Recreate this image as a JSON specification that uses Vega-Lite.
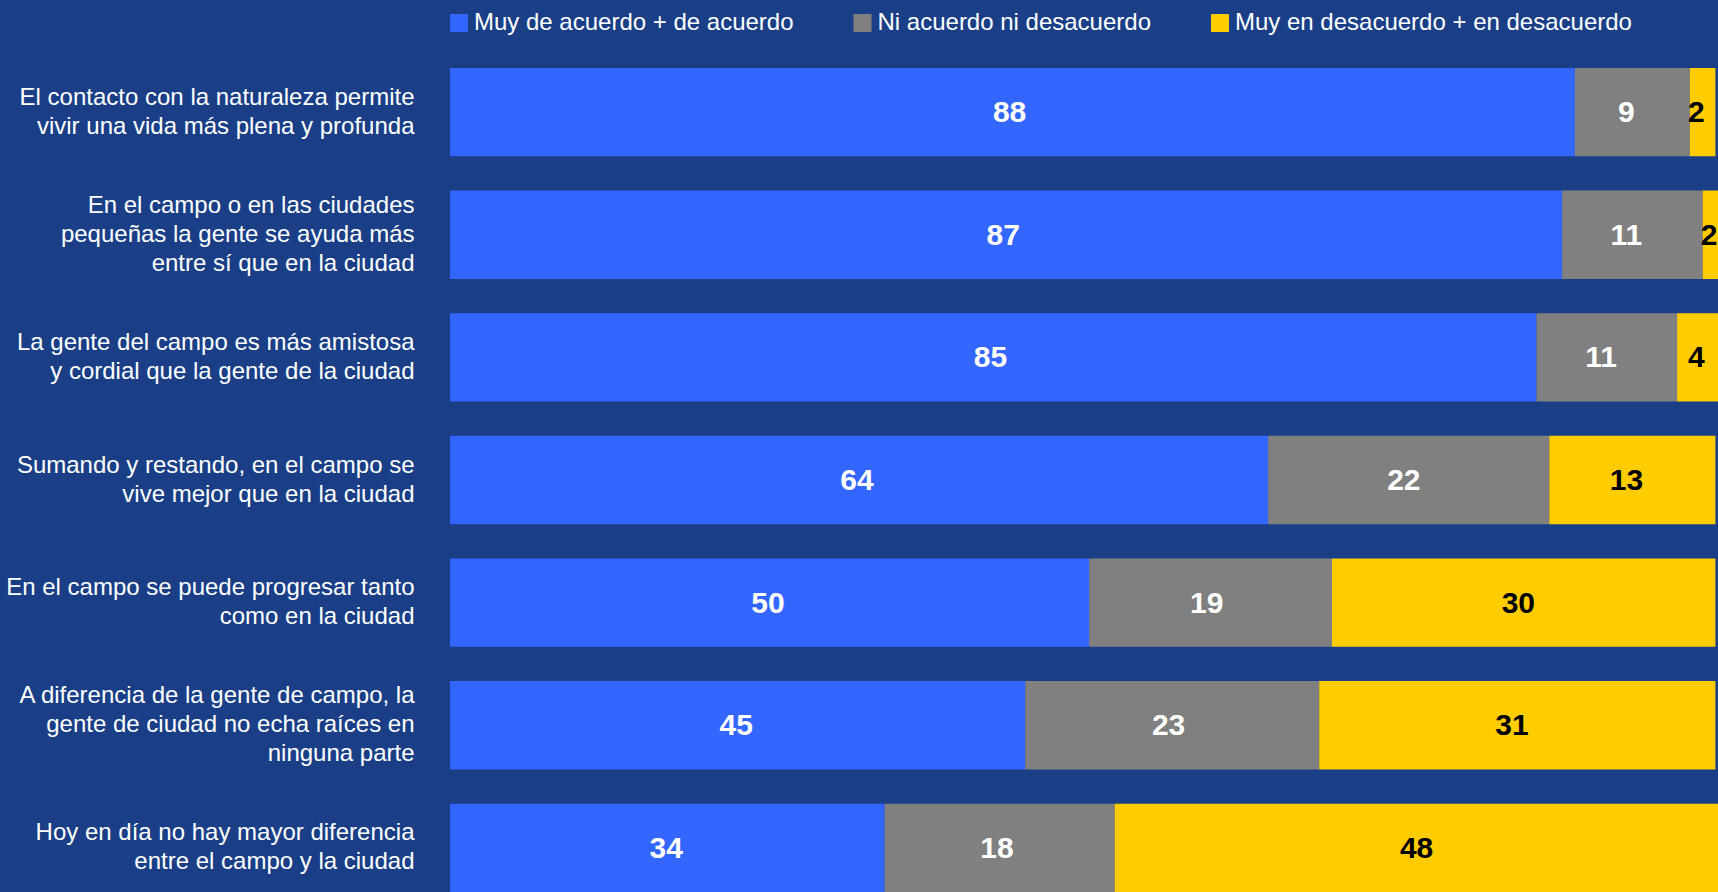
{
  "$schema": "https://vega.github.io/schema/vega-lite/v6.json",
  "width": 1268,
  "height": 824,
  "autosize": {"type": "none"},
  "padding": {"left": 450, "top": 68, "right": 0, "bottom": 0},
  "background": "#1a3f86",
  "config": {"view": {"stroke": null}, "font": "Liberation Sans"},
  "data": {
    "values": [
      {"pregunta": "El contacto con la naturaleza permite|vivir una vida más plena y profunda", "respuesta": "Muy de acuerdo + de acuerdo", "orden": 1, "valor": 88},
      {"pregunta": "El contacto con la naturaleza permite|vivir una vida más plena y profunda", "respuesta": "Ni acuerdo ni desacuerdo", "orden": 2, "valor": 9},
      {"pregunta": "El contacto con la naturaleza permite|vivir una vida más plena y profunda", "respuesta": "Muy en desacuerdo + en desacuerdo", "orden": 3, "valor": 2},
      {"pregunta": "En el campo o en las ciudades|pequeñas la gente se ayuda más|entre sí que en la ciudad", "respuesta": "Muy de acuerdo + de acuerdo", "orden": 1, "valor": 87},
      {"pregunta": "En el campo o en las ciudades|pequeñas la gente se ayuda más|entre sí que en la ciudad", "respuesta": "Ni acuerdo ni desacuerdo", "orden": 2, "valor": 11},
      {"pregunta": "En el campo o en las ciudades|pequeñas la gente se ayuda más|entre sí que en la ciudad", "respuesta": "Muy en desacuerdo + en desacuerdo", "orden": 3, "valor": 2},
      {"pregunta": "La gente del campo es más amistosa|y cordial que la gente de la ciudad", "respuesta": "Muy de acuerdo + de acuerdo", "orden": 1, "valor": 85},
      {"pregunta": "La gente del campo es más amistosa|y cordial que la gente de la ciudad", "respuesta": "Ni acuerdo ni desacuerdo", "orden": 2, "valor": 11},
      {"pregunta": "La gente del campo es más amistosa|y cordial que la gente de la ciudad", "respuesta": "Muy en desacuerdo + en desacuerdo", "orden": 3, "valor": 4},
      {"pregunta": "Sumando y restando, en el campo se|vive mejor que en la ciudad", "respuesta": "Muy de acuerdo + de acuerdo", "orden": 1, "valor": 64},
      {"pregunta": "Sumando y restando, en el campo se|vive mejor que en la ciudad", "respuesta": "Ni acuerdo ni desacuerdo", "orden": 2, "valor": 22},
      {"pregunta": "Sumando y restando, en el campo se|vive mejor que en la ciudad", "respuesta": "Muy en desacuerdo + en desacuerdo", "orden": 3, "valor": 13},
      {"pregunta": "En el campo se puede progresar tanto|como en la ciudad", "respuesta": "Muy de acuerdo + de acuerdo", "orden": 1, "valor": 50},
      {"pregunta": "En el campo se puede progresar tanto|como en la ciudad", "respuesta": "Ni acuerdo ni desacuerdo", "orden": 2, "valor": 19},
      {"pregunta": "En el campo se puede progresar tanto|como en la ciudad", "respuesta": "Muy en desacuerdo + en desacuerdo", "orden": 3, "valor": 30},
      {"pregunta": "A diferencia de la gente de campo, la|gente de ciudad no echa raíces en|ninguna parte", "respuesta": "Muy de acuerdo + de acuerdo", "orden": 1, "valor": 45},
      {"pregunta": "A diferencia de la gente de campo, la|gente de ciudad no echa raíces en|ninguna parte", "respuesta": "Ni acuerdo ni desacuerdo", "orden": 2, "valor": 23},
      {"pregunta": "A diferencia de la gente de campo, la|gente de ciudad no echa raíces en|ninguna parte", "respuesta": "Muy en desacuerdo + en desacuerdo", "orden": 3, "valor": 31},
      {"pregunta": "Hoy en día no hay mayor diferencia|entre el campo y la ciudad", "respuesta": "Muy de acuerdo + de acuerdo", "orden": 1, "valor": 34},
      {"pregunta": "Hoy en día no hay mayor diferencia|entre el campo y la ciudad", "respuesta": "Ni acuerdo ni desacuerdo", "orden": 2, "valor": 18},
      {"pregunta": "Hoy en día no hay mayor diferencia|entre el campo y la ciudad", "respuesta": "Muy en desacuerdo + en desacuerdo", "orden": 3, "valor": 48}
    ]
  },
  "transform": [
    {"stack": "valor", "groupby": ["pregunta"], "sort": [{"field": "orden"}], "as": ["x0", "x1"]}
  ],
  "encoding": {
    "y": {
      "field": "pregunta",
      "type": "nominal",
      "sort": null,
      "scale": {"paddingInner": 0.28, "paddingOuter": 0},
      "axis": {
        "title": null,
        "domain": false,
        "ticks": false,
        "labelFontSize": 24,
        "labelColor": "#ffffff",
        "labelFont": "Liberation Sans",
        "labelPadding": 36,
        "labelLimit": 600,
        "labelLineHeight": 29,
        "labelExpr": "split(datum.label, '|')",
        "labelOffset": {
          "condition": {"test": "length(split(datum.label, '|')) == 3", "value": -29},
          "value": -14.5
        }
      }
    }
  },
  "resolve": {"scale": {"x": "independent"}},
  "layer": [
    {
      "mark": {"type": "bar", "clip": true},
      "encoding": {
        "x": {"field": "x0", "type": "quantitative", "scale": {"domain": [0, 99.2], "nice": false, "zero": true}, "axis": null},
        "x2": {"field": "x1"},
        "color": {
          "field": "respuesta",
          "type": "nominal",
          "scale": {
            "domain": ["Muy de acuerdo + de acuerdo", "Ni acuerdo ni desacuerdo", "Muy en desacuerdo + en desacuerdo"],
            "range": ["#3366ff", "#808080", "#ffcc00"]
          },
          "legend": {
            "title": null,
            "orient": "none",
            "legendX": -3,
            "legendY": -57,
            "direction": "horizontal",
            "symbolType": "square",
            "symbolSize": 324,
            "symbolStrokeWidth": 0,
            "labelFontSize": 24,
            "labelColor": "#ffffff",
            "labelFont": "Liberation Sans",
            "labelLimit": 600,
            "columnPadding": 56.5,
            "labelOffset": 3
          }
        }
      }
    },
    {
      "transform": [
        {"fold": ["x0", "x1"], "as": ["extremo", "pos"]}
      ],
      "mark": {"type": "text", "fontSize": 30, "fontWeight": "bold", "baseline": "middle", "font": "Liberation Sans", "dy": 1},
      "encoding": {
        "x": {"field": "pos", "type": "quantitative", "aggregate": "mean", "scale": {"domain": [0, 99.7], "nice": false, "zero": true}, "axis": null},
        "detail": {"field": "respuesta", "type": "nominal"},
        "text": {"field": "valor", "type": "quantitative", "aggregate": "max"},
        "color": {
          "condition": {"test": "datum.respuesta === 'Muy en desacuerdo + en desacuerdo'", "value": "#000000"},
          "value": "#ffffff"
        }
      }
    }
  ]
}
